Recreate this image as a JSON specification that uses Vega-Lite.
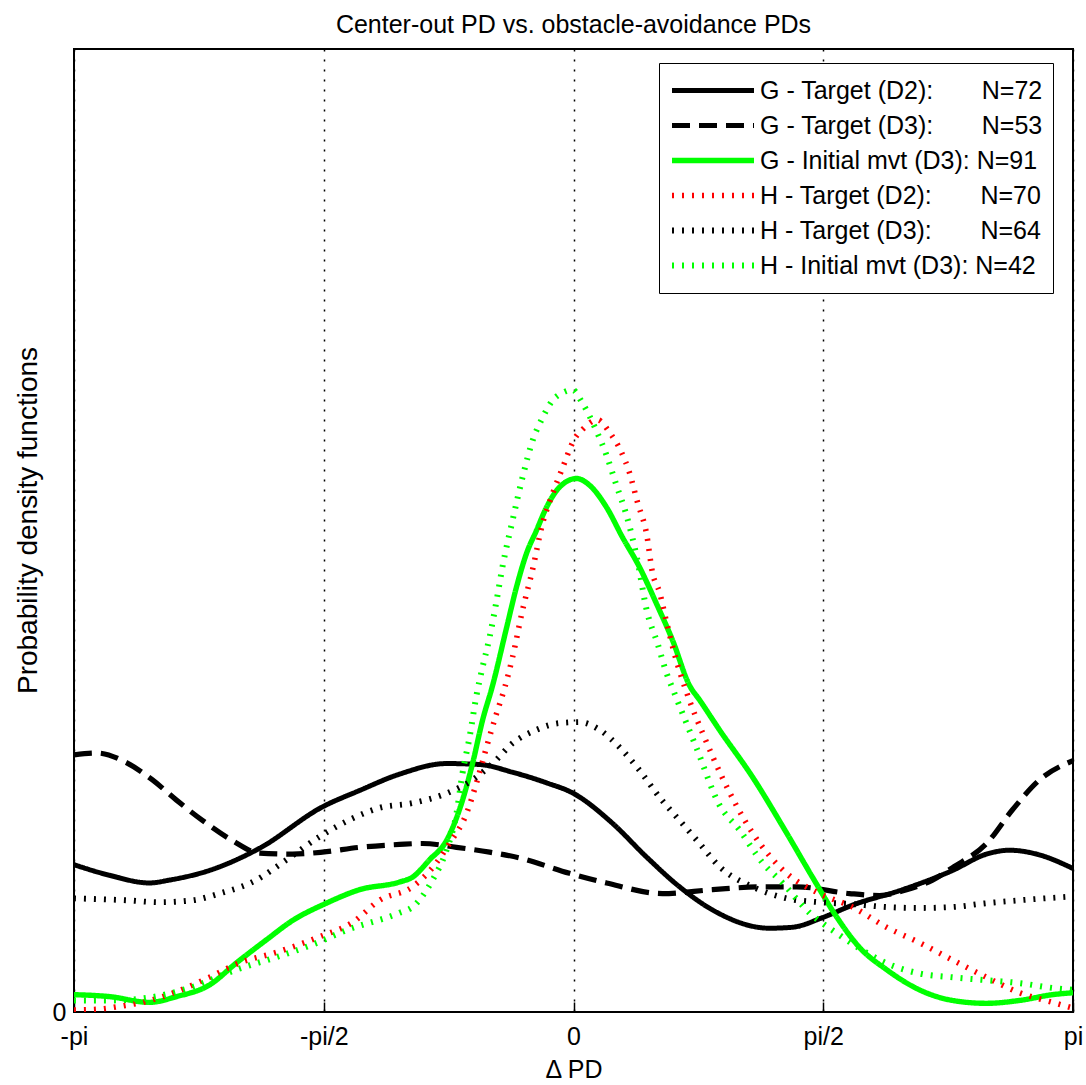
{
  "$schema": "https://vega.github.io/schema/vega-lite/v6.json",
  "width": 999,
  "height": 963,
  "autosize": {"type": "none"},
  "padding": {"left": 74, "top": 49, "right": 13, "bottom": 73},
  "background": "white",
  "title": {"text": "Center-out PD vs. obstacle-avoidance PDs", "fontSize": 25, "font": "Liberation Sans", "fontWeight": "normal", "color": "#000", "offset": 19, "dy": 28, "baseline": "alphabetic"},
  "datasets": {
    "pdfs": [
      {"series": "G - Target (D2):\u00a0\u00a0\u00a0\u00a0\u00a0\u00a0\u00a0N=72", "dpd": -3.142, "pdf": 0.153},
      {"series": "G - Target (D2):\u00a0\u00a0\u00a0\u00a0\u00a0\u00a0\u00a0N=72", "dpd": -2.919, "pdf": 0.142},
      {"series": "G - Target (D2):\u00a0\u00a0\u00a0\u00a0\u00a0\u00a0\u00a0N=72", "dpd": -2.667, "pdf": 0.134},
      {"series": "G - Target (D2):\u00a0\u00a0\u00a0\u00a0\u00a0\u00a0\u00a0N=72", "dpd": -2.541, "pdf": 0.137},
      {"series": "G - Target (D2):\u00a0\u00a0\u00a0\u00a0\u00a0\u00a0\u00a0N=72", "dpd": -2.290, "pdf": 0.147},
      {"series": "G - Target (D2):\u00a0\u00a0\u00a0\u00a0\u00a0\u00a0\u00a0N=72", "dpd": -1.975, "pdf": 0.170},
      {"series": "G - Target (D2):\u00a0\u00a0\u00a0\u00a0\u00a0\u00a0\u00a0N=72", "dpd": -1.579, "pdf": 0.213},
      {"series": "G - Target (D2):\u00a0\u00a0\u00a0\u00a0\u00a0\u00a0\u00a0N=72", "dpd": -1.346, "pdf": 0.230},
      {"series": "G - Target (D2):\u00a0\u00a0\u00a0\u00a0\u00a0\u00a0\u00a0N=72", "dpd": -1.094, "pdf": 0.247},
      {"series": "G - Target (D2):\u00a0\u00a0\u00a0\u00a0\u00a0\u00a0\u00a0N=72", "dpd": -0.799, "pdf": 0.258},
      {"series": "G - Target (D2):\u00a0\u00a0\u00a0\u00a0\u00a0\u00a0\u00a0N=72", "dpd": -0.591, "pdf": 0.257},
      {"series": "G - Target (D2):\u00a0\u00a0\u00a0\u00a0\u00a0\u00a0\u00a0N=72", "dpd": -0.384, "pdf": 0.249},
      {"series": "G - Target (D2):\u00a0\u00a0\u00a0\u00a0\u00a0\u00a0\u00a0N=72", "dpd": -0.170, "pdf": 0.238},
      {"series": "G - Target (D2):\u00a0\u00a0\u00a0\u00a0\u00a0\u00a0\u00a0N=72", "dpd": 0.0, "pdf": 0.227},
      {"series": "G - Target (D2):\u00a0\u00a0\u00a0\u00a0\u00a0\u00a0\u00a0N=72", "dpd": 0.245, "pdf": 0.196},
      {"series": "G - Target (D2):\u00a0\u00a0\u00a0\u00a0\u00a0\u00a0\u00a0N=72", "dpd": 0.459, "pdf": 0.161},
      {"series": "G - Target (D2):\u00a0\u00a0\u00a0\u00a0\u00a0\u00a0\u00a0N=72", "dpd": 0.667, "pdf": 0.130},
      {"series": "G - Target (D2):\u00a0\u00a0\u00a0\u00a0\u00a0\u00a0\u00a0N=72", "dpd": 0.874, "pdf": 0.106},
      {"series": "G - Target (D2):\u00a0\u00a0\u00a0\u00a0\u00a0\u00a0\u00a0N=72", "dpd": 1.233, "pdf": 0.087},
      {"series": "G - Target (D2):\u00a0\u00a0\u00a0\u00a0\u00a0\u00a0\u00a0N=72", "dpd": 1.377, "pdf": 0.088},
      {"series": "G - Target (D2):\u00a0\u00a0\u00a0\u00a0\u00a0\u00a0\u00a0N=72", "dpd": 1.566, "pdf": 0.098},
      {"series": "G - Target (D2):\u00a0\u00a0\u00a0\u00a0\u00a0\u00a0\u00a0N=72", "dpd": 1.755, "pdf": 0.111},
      {"series": "G - Target (D2):\u00a0\u00a0\u00a0\u00a0\u00a0\u00a0\u00a0N=72", "dpd": 2.069, "pdf": 0.127},
      {"series": "G - Target (D2):\u00a0\u00a0\u00a0\u00a0\u00a0\u00a0\u00a0N=72", "dpd": 2.384, "pdf": 0.147},
      {"series": "G - Target (D2):\u00a0\u00a0\u00a0\u00a0\u00a0\u00a0\u00a0N=72", "dpd": 2.598, "pdf": 0.164},
      {"series": "G - Target (D2):\u00a0\u00a0\u00a0\u00a0\u00a0\u00a0\u00a0N=72", "dpd": 2.742, "pdf": 0.168},
      {"series": "G - Target (D2):\u00a0\u00a0\u00a0\u00a0\u00a0\u00a0\u00a0N=72", "dpd": 2.912, "pdf": 0.164},
      {"series": "G - Target (D2):\u00a0\u00a0\u00a0\u00a0\u00a0\u00a0\u00a0N=72", "dpd": 3.142, "pdf": 0.149},

      {"series": "G - Target (D3):\u00a0\u00a0\u00a0\u00a0\u00a0\u00a0\u00a0N=53", "dpd": -3.142, "pdf": 0.267},
      {"series": "G - Target (D3):\u00a0\u00a0\u00a0\u00a0\u00a0\u00a0\u00a0N=53", "dpd": -3.000, "pdf": 0.269},
      {"series": "G - Target (D3):\u00a0\u00a0\u00a0\u00a0\u00a0\u00a0\u00a0N=53", "dpd": -2.812, "pdf": 0.259},
      {"series": "G - Target (D3):\u00a0\u00a0\u00a0\u00a0\u00a0\u00a0\u00a0N=53", "dpd": -2.648, "pdf": 0.241},
      {"series": "G - Target (D3):\u00a0\u00a0\u00a0\u00a0\u00a0\u00a0\u00a0N=53", "dpd": -2.497, "pdf": 0.220},
      {"series": "G - Target (D3):\u00a0\u00a0\u00a0\u00a0\u00a0\u00a0\u00a0N=53", "dpd": -2.334, "pdf": 0.199},
      {"series": "G - Target (D3):\u00a0\u00a0\u00a0\u00a0\u00a0\u00a0\u00a0N=53", "dpd": -2.145, "pdf": 0.178},
      {"series": "G - Target (D3):\u00a0\u00a0\u00a0\u00a0\u00a0\u00a0\u00a0N=53", "dpd": -1.975, "pdf": 0.165},
      {"series": "G - Target (D3):\u00a0\u00a0\u00a0\u00a0\u00a0\u00a0\u00a0N=53", "dpd": -1.767, "pdf": 0.164},
      {"series": "G - Target (D3):\u00a0\u00a0\u00a0\u00a0\u00a0\u00a0\u00a0N=53", "dpd": -1.579, "pdf": 0.166},
      {"series": "G - Target (D3):\u00a0\u00a0\u00a0\u00a0\u00a0\u00a0\u00a0N=53", "dpd": -1.346, "pdf": 0.171},
      {"series": "G - Target (D3):\u00a0\u00a0\u00a0\u00a0\u00a0\u00a0\u00a0N=53", "dpd": -1.094, "pdf": 0.174},
      {"series": "G - Target (D3):\u00a0\u00a0\u00a0\u00a0\u00a0\u00a0\u00a0N=53", "dpd": -0.950, "pdf": 0.175},
      {"series": "G - Target (D3):\u00a0\u00a0\u00a0\u00a0\u00a0\u00a0\u00a0N=53", "dpd": -0.736, "pdf": 0.171},
      {"series": "G - Target (D3):\u00a0\u00a0\u00a0\u00a0\u00a0\u00a0\u00a0N=53", "dpd": -0.528, "pdf": 0.166},
      {"series": "G - Target (D3):\u00a0\u00a0\u00a0\u00a0\u00a0\u00a0\u00a0N=53", "dpd": -0.340, "pdf": 0.160},
      {"series": "G - Target (D3):\u00a0\u00a0\u00a0\u00a0\u00a0\u00a0\u00a0N=53", "dpd": -0.025, "pdf": 0.144},
      {"series": "G - Target (D3):\u00a0\u00a0\u00a0\u00a0\u00a0\u00a0\u00a0N=53", "dpd": 0.208, "pdf": 0.134},
      {"series": "G - Target (D3):\u00a0\u00a0\u00a0\u00a0\u00a0\u00a0\u00a0N=53", "dpd": 0.560, "pdf": 0.123},
      {"series": "G - Target (D3):\u00a0\u00a0\u00a0\u00a0\u00a0\u00a0\u00a0N=53", "dpd": 0.874, "pdf": 0.127},
      {"series": "G - Target (D3):\u00a0\u00a0\u00a0\u00a0\u00a0\u00a0\u00a0N=53", "dpd": 1.189, "pdf": 0.130},
      {"series": "G - Target (D3):\u00a0\u00a0\u00a0\u00a0\u00a0\u00a0\u00a0N=53", "dpd": 1.403, "pdf": 0.130},
      {"series": "G - Target (D3):\u00a0\u00a0\u00a0\u00a0\u00a0\u00a0\u00a0N=53", "dpd": 1.736, "pdf": 0.123},
      {"series": "G - Target (D3):\u00a0\u00a0\u00a0\u00a0\u00a0\u00a0\u00a0N=53", "dpd": 1.925, "pdf": 0.121},
      {"series": "G - Target (D3):\u00a0\u00a0\u00a0\u00a0\u00a0\u00a0\u00a0N=53", "dpd": 2.095, "pdf": 0.127},
      {"series": "G - Target (D3):\u00a0\u00a0\u00a0\u00a0\u00a0\u00a0\u00a0N=53", "dpd": 2.258, "pdf": 0.137},
      {"series": "G - Target (D3):\u00a0\u00a0\u00a0\u00a0\u00a0\u00a0\u00a0N=53", "dpd": 2.384, "pdf": 0.150},
      {"series": "G - Target (D3):\u00a0\u00a0\u00a0\u00a0\u00a0\u00a0\u00a0N=53", "dpd": 2.598, "pdf": 0.175},
      {"series": "G - Target (D3):\u00a0\u00a0\u00a0\u00a0\u00a0\u00a0\u00a0N=53", "dpd": 2.761, "pdf": 0.210},
      {"series": "G - Target (D3):\u00a0\u00a0\u00a0\u00a0\u00a0\u00a0\u00a0N=53", "dpd": 2.931, "pdf": 0.241},
      {"series": "G - Target (D3):\u00a0\u00a0\u00a0\u00a0\u00a0\u00a0\u00a0N=53", "dpd": 3.142, "pdf": 0.261},

      {"series": "G - Initial mvt (D3): N=91", "dpd": -3.142, "pdf": 0.018},
      {"series": "G - Initial mvt (D3): N=91", "dpd": -2.919, "pdf": 0.016},
      {"series": "G - Initial mvt (D3): N=91", "dpd": -2.667, "pdf": 0.010},
      {"series": "G - Initial mvt (D3): N=91", "dpd": -2.497, "pdf": 0.016},
      {"series": "G - Initial mvt (D3): N=91", "dpd": -2.290, "pdf": 0.028},
      {"series": "G - Initial mvt (D3): N=91", "dpd": -2.120, "pdf": 0.051},
      {"series": "G - Initial mvt (D3): N=91", "dpd": -1.931, "pdf": 0.075},
      {"series": "G - Initial mvt (D3): N=91", "dpd": -1.767, "pdf": 0.095},
      {"series": "G - Initial mvt (D3): N=91", "dpd": -1.554, "pdf": 0.113},
      {"series": "G - Initial mvt (D3): N=91", "dpd": -1.346, "pdf": 0.127},
      {"series": "G - Initial mvt (D3): N=91", "dpd": -1.094, "pdf": 0.135},
      {"series": "G - Initial mvt (D3): N=91", "dpd": -1.013, "pdf": 0.140},
      {"series": "G - Initial mvt (D3): N=91", "dpd": -0.906, "pdf": 0.158},
      {"series": "G - Initial mvt (D3): N=91", "dpd": -0.799, "pdf": 0.178},
      {"series": "G - Initial mvt (D3): N=91", "dpd": -0.698, "pdf": 0.220},
      {"series": "G - Initial mvt (D3): N=91", "dpd": -0.635, "pdf": 0.258},
      {"series": "G - Initial mvt (D3): N=91", "dpd": -0.572, "pdf": 0.303},
      {"series": "G - Initial mvt (D3): N=91", "dpd": -0.509, "pdf": 0.339},
      {"series": "G - Initial mvt (D3): N=91", "dpd": -0.421, "pdf": 0.399},
      {"series": "G - Initial mvt (D3): N=91", "dpd": -0.359, "pdf": 0.441},
      {"series": "G - Initial mvt (D3): N=91", "dpd": -0.296, "pdf": 0.476},
      {"series": "G - Initial mvt (D3): N=91", "dpd": -0.233, "pdf": 0.500},
      {"series": "G - Initial mvt (D3): N=91", "dpd": -0.170, "pdf": 0.524},
      {"series": "G - Initial mvt (D3): N=91", "dpd": -0.088, "pdf": 0.545},
      {"series": "G - Initial mvt (D3): N=91", "dpd": 0.019, "pdf": 0.554},
      {"series": "G - Initial mvt (D3): N=91", "dpd": 0.101, "pdf": 0.547},
      {"series": "G - Initial mvt (D3): N=91", "dpd": 0.208, "pdf": 0.524},
      {"series": "G - Initial mvt (D3): N=91", "dpd": 0.308, "pdf": 0.493},
      {"series": "G - Initial mvt (D3): N=91", "dpd": 0.415, "pdf": 0.462},
      {"series": "G - Initial mvt (D3): N=91", "dpd": 0.522, "pdf": 0.424},
      {"series": "G - Initial mvt (D3): N=91", "dpd": 0.623, "pdf": 0.386},
      {"series": "G - Initial mvt (D3): N=91", "dpd": 0.730, "pdf": 0.339},
      {"series": "G - Initial mvt (D3): N=91", "dpd": 0.793, "pdf": 0.324},
      {"series": "G - Initial mvt (D3): N=91", "dpd": 0.918, "pdf": 0.293},
      {"series": "G - Initial mvt (D3): N=91", "dpd": 1.126, "pdf": 0.244},
      {"series": "G - Initial mvt (D3): N=91", "dpd": 1.340, "pdf": 0.186},
      {"series": "G - Initial mvt (D3): N=91", "dpd": 1.503, "pdf": 0.140},
      {"series": "G - Initial mvt (D3): N=91", "dpd": 1.654, "pdf": 0.099},
      {"series": "G - Initial mvt (D3): N=91", "dpd": 1.799, "pdf": 0.067},
      {"series": "G - Initial mvt (D3): N=91", "dpd": 1.969, "pdf": 0.044},
      {"series": "G - Initial mvt (D3): N=91", "dpd": 2.176, "pdf": 0.023},
      {"series": "G - Initial mvt (D3): N=91", "dpd": 2.384, "pdf": 0.012},
      {"series": "G - Initial mvt (D3): N=91", "dpd": 2.598, "pdf": 0.009},
      {"series": "G - Initial mvt (D3): N=91", "dpd": 2.805, "pdf": 0.012},
      {"series": "G - Initial mvt (D3): N=91", "dpd": 3.013, "pdf": 0.018},
      {"series": "G - Initial mvt (D3): N=91", "dpd": 3.142, "pdf": 0.020},

      {"series": "H - Target (D2):\u00a0\u00a0\u00a0\u00a0\u00a0\u00a0\u00a0N=70", "dpd": -3.142, "pdf": 0.002},
      {"series": "H - Target (D2):\u00a0\u00a0\u00a0\u00a0\u00a0\u00a0\u00a0N=70", "dpd": -2.981, "pdf": 0.003},
      {"series": "H - Target (D2):\u00a0\u00a0\u00a0\u00a0\u00a0\u00a0\u00a0N=70", "dpd": -2.812, "pdf": 0.007},
      {"series": "H - Target (D2):\u00a0\u00a0\u00a0\u00a0\u00a0\u00a0\u00a0N=70", "dpd": -2.711, "pdf": 0.010},
      {"series": "H - Target (D2):\u00a0\u00a0\u00a0\u00a0\u00a0\u00a0\u00a0N=70", "dpd": -2.497, "pdf": 0.021},
      {"series": "H - Target (D2):\u00a0\u00a0\u00a0\u00a0\u00a0\u00a0\u00a0N=70", "dpd": -2.290, "pdf": 0.036},
      {"series": "H - Target (D2):\u00a0\u00a0\u00a0\u00a0\u00a0\u00a0\u00a0N=70", "dpd": -2.101, "pdf": 0.051},
      {"series": "H - Target (D2):\u00a0\u00a0\u00a0\u00a0\u00a0\u00a0\u00a0N=70", "dpd": -1.868, "pdf": 0.062},
      {"series": "H - Target (D2):\u00a0\u00a0\u00a0\u00a0\u00a0\u00a0\u00a0N=70", "dpd": -1.598, "pdf": 0.078},
      {"series": "H - Target (D2):\u00a0\u00a0\u00a0\u00a0\u00a0\u00a0\u00a0N=70", "dpd": -1.390, "pdf": 0.093},
      {"series": "H - Target (D2):\u00a0\u00a0\u00a0\u00a0\u00a0\u00a0\u00a0N=70", "dpd": -1.220, "pdf": 0.116},
      {"series": "H - Target (D2):\u00a0\u00a0\u00a0\u00a0\u00a0\u00a0\u00a0N=70", "dpd": -1.013, "pdf": 0.130},
      {"series": "H - Target (D2):\u00a0\u00a0\u00a0\u00a0\u00a0\u00a0\u00a0N=70", "dpd": -0.862, "pdf": 0.155},
      {"series": "H - Target (D2):\u00a0\u00a0\u00a0\u00a0\u00a0\u00a0\u00a0N=70", "dpd": -0.780, "pdf": 0.175},
      {"series": "H - Target (D2):\u00a0\u00a0\u00a0\u00a0\u00a0\u00a0\u00a0N=70", "dpd": -0.673, "pdf": 0.206},
      {"series": "H - Target (D2):\u00a0\u00a0\u00a0\u00a0\u00a0\u00a0\u00a0N=70", "dpd": -0.610, "pdf": 0.238},
      {"series": "H - Target (D2):\u00a0\u00a0\u00a0\u00a0\u00a0\u00a0\u00a0N=70", "dpd": -0.547, "pdf": 0.275},
      {"series": "H - Target (D2):\u00a0\u00a0\u00a0\u00a0\u00a0\u00a0\u00a0N=70", "dpd": -0.484, "pdf": 0.310},
      {"series": "H - Target (D2):\u00a0\u00a0\u00a0\u00a0\u00a0\u00a0\u00a0N=70", "dpd": -0.434, "pdf": 0.336},
      {"series": "H - Target (D2):\u00a0\u00a0\u00a0\u00a0\u00a0\u00a0\u00a0N=70", "dpd": -0.384, "pdf": 0.368},
      {"series": "H - Target (D2):\u00a0\u00a0\u00a0\u00a0\u00a0\u00a0\u00a0N=70", "dpd": -0.321, "pdf": 0.417},
      {"series": "H - Target (D2):\u00a0\u00a0\u00a0\u00a0\u00a0\u00a0\u00a0N=70", "dpd": -0.258, "pdf": 0.459},
      {"series": "H - Target (D2):\u00a0\u00a0\u00a0\u00a0\u00a0\u00a0\u00a0N=70", "dpd": -0.195, "pdf": 0.507},
      {"series": "H - Target (D2):\u00a0\u00a0\u00a0\u00a0\u00a0\u00a0\u00a0N=70", "dpd": -0.132, "pdf": 0.538},
      {"series": "H - Target (D2):\u00a0\u00a0\u00a0\u00a0\u00a0\u00a0\u00a0N=70", "dpd": -0.069, "pdf": 0.565},
      {"series": "H - Target (D2):\u00a0\u00a0\u00a0\u00a0\u00a0\u00a0\u00a0N=70", "dpd": 0.006, "pdf": 0.595},
      {"series": "H - Target (D2):\u00a0\u00a0\u00a0\u00a0\u00a0\u00a0\u00a0N=70", "dpd": 0.057, "pdf": 0.605},
      {"series": "H - Target (D2):\u00a0\u00a0\u00a0\u00a0\u00a0\u00a0\u00a0N=70", "dpd": 0.151, "pdf": 0.615},
      {"series": "H - Target (D2):\u00a0\u00a0\u00a0\u00a0\u00a0\u00a0\u00a0N=70", "dpd": 0.226, "pdf": 0.602},
      {"series": "H - Target (D2):\u00a0\u00a0\u00a0\u00a0\u00a0\u00a0\u00a0N=70", "dpd": 0.302, "pdf": 0.581},
      {"series": "H - Target (D2):\u00a0\u00a0\u00a0\u00a0\u00a0\u00a0\u00a0N=70", "dpd": 0.352, "pdf": 0.560},
      {"series": "H - Target (D2):\u00a0\u00a0\u00a0\u00a0\u00a0\u00a0\u00a0N=70", "dpd": 0.403, "pdf": 0.529},
      {"series": "H - Target (D2):\u00a0\u00a0\u00a0\u00a0\u00a0\u00a0\u00a0N=70", "dpd": 0.459, "pdf": 0.497},
      {"series": "H - Target (D2):\u00a0\u00a0\u00a0\u00a0\u00a0\u00a0\u00a0N=70", "dpd": 0.497, "pdf": 0.456},
      {"series": "H - Target (D2):\u00a0\u00a0\u00a0\u00a0\u00a0\u00a0\u00a0N=70", "dpd": 0.541, "pdf": 0.436},
      {"series": "H - Target (D2):\u00a0\u00a0\u00a0\u00a0\u00a0\u00a0\u00a0N=70", "dpd": 0.585, "pdf": 0.405},
      {"series": "H - Target (D2):\u00a0\u00a0\u00a0\u00a0\u00a0\u00a0\u00a0N=70", "dpd": 0.635, "pdf": 0.372},
      {"series": "H - Target (D2):\u00a0\u00a0\u00a0\u00a0\u00a0\u00a0\u00a0N=70", "dpd": 0.711, "pdf": 0.332},
      {"series": "H - Target (D2):\u00a0\u00a0\u00a0\u00a0\u00a0\u00a0\u00a0N=70", "dpd": 0.824, "pdf": 0.285},
      {"series": "H - Target (D2):\u00a0\u00a0\u00a0\u00a0\u00a0\u00a0\u00a0N=70", "dpd": 0.937, "pdf": 0.243},
      {"series": "H - Target (D2):\u00a0\u00a0\u00a0\u00a0\u00a0\u00a0\u00a0N=70", "dpd": 1.126, "pdf": 0.186},
      {"series": "H - Target (D2):\u00a0\u00a0\u00a0\u00a0\u00a0\u00a0\u00a0N=70", "dpd": 1.340, "pdf": 0.144},
      {"series": "H - Target (D2):\u00a0\u00a0\u00a0\u00a0\u00a0\u00a0\u00a0N=70", "dpd": 1.547, "pdf": 0.123},
      {"series": "H - Target (D2):\u00a0\u00a0\u00a0\u00a0\u00a0\u00a0\u00a0N=70", "dpd": 1.755, "pdf": 0.109},
      {"series": "H - Target (D2):\u00a0\u00a0\u00a0\u00a0\u00a0\u00a0\u00a0N=70", "dpd": 1.969, "pdf": 0.088},
      {"series": "H - Target (D2):\u00a0\u00a0\u00a0\u00a0\u00a0\u00a0\u00a0N=70", "dpd": 2.176, "pdf": 0.072},
      {"series": "H - Target (D2):\u00a0\u00a0\u00a0\u00a0\u00a0\u00a0\u00a0N=70", "dpd": 2.384, "pdf": 0.054},
      {"series": "H - Target (D2):\u00a0\u00a0\u00a0\u00a0\u00a0\u00a0\u00a0N=70", "dpd": 2.598, "pdf": 0.036},
      {"series": "H - Target (D2):\u00a0\u00a0\u00a0\u00a0\u00a0\u00a0\u00a0N=70", "dpd": 2.805, "pdf": 0.020},
      {"series": "H - Target (D2):\u00a0\u00a0\u00a0\u00a0\u00a0\u00a0\u00a0N=70", "dpd": 3.013, "pdf": 0.010},
      {"series": "H - Target (D2):\u00a0\u00a0\u00a0\u00a0\u00a0\u00a0\u00a0N=70", "dpd": 3.142, "pdf": 0.004},

      {"series": "H - Target (D3):\u00a0\u00a0\u00a0\u00a0\u00a0\u00a0\u00a0N=64", "dpd": -3.142, "pdf": 0.118},
      {"series": "H - Target (D3):\u00a0\u00a0\u00a0\u00a0\u00a0\u00a0\u00a0N=64", "dpd": -2.812, "pdf": 0.116},
      {"series": "H - Target (D3):\u00a0\u00a0\u00a0\u00a0\u00a0\u00a0\u00a0N=64", "dpd": -2.604, "pdf": 0.114},
      {"series": "H - Target (D3):\u00a0\u00a0\u00a0\u00a0\u00a0\u00a0\u00a0N=64", "dpd": -2.396, "pdf": 0.116},
      {"series": "H - Target (D3):\u00a0\u00a0\u00a0\u00a0\u00a0\u00a0\u00a0N=64", "dpd": -2.227, "pdf": 0.123},
      {"series": "H - Target (D3):\u00a0\u00a0\u00a0\u00a0\u00a0\u00a0\u00a0N=64", "dpd": -2.019, "pdf": 0.135},
      {"series": "H - Target (D3):\u00a0\u00a0\u00a0\u00a0\u00a0\u00a0\u00a0N=64", "dpd": -1.805, "pdf": 0.158},
      {"series": "H - Target (D3):\u00a0\u00a0\u00a0\u00a0\u00a0\u00a0\u00a0N=64", "dpd": -1.598, "pdf": 0.182},
      {"series": "H - Target (D3):\u00a0\u00a0\u00a0\u00a0\u00a0\u00a0\u00a0N=64", "dpd": -1.390, "pdf": 0.201},
      {"series": "H - Target (D3):\u00a0\u00a0\u00a0\u00a0\u00a0\u00a0\u00a0N=64", "dpd": -1.220, "pdf": 0.212},
      {"series": "H - Target (D3):\u00a0\u00a0\u00a0\u00a0\u00a0\u00a0\u00a0N=64", "dpd": -1.013, "pdf": 0.217},
      {"series": "H - Target (D3):\u00a0\u00a0\u00a0\u00a0\u00a0\u00a0\u00a0N=64", "dpd": -0.799, "pdf": 0.227},
      {"series": "H - Target (D3):\u00a0\u00a0\u00a0\u00a0\u00a0\u00a0\u00a0N=64", "dpd": -0.635, "pdf": 0.241},
      {"series": "H - Target (D3):\u00a0\u00a0\u00a0\u00a0\u00a0\u00a0\u00a0N=64", "dpd": -0.509, "pdf": 0.258},
      {"series": "H - Target (D3):\u00a0\u00a0\u00a0\u00a0\u00a0\u00a0\u00a0N=64", "dpd": -0.384, "pdf": 0.279},
      {"series": "H - Target (D3):\u00a0\u00a0\u00a0\u00a0\u00a0\u00a0\u00a0N=64", "dpd": -0.233, "pdf": 0.293},
      {"series": "H - Target (D3):\u00a0\u00a0\u00a0\u00a0\u00a0\u00a0\u00a0N=64", "dpd": -0.088, "pdf": 0.300},
      {"series": "H - Target (D3):\u00a0\u00a0\u00a0\u00a0\u00a0\u00a0\u00a0N=64", "dpd": 0.038, "pdf": 0.301},
      {"series": "H - Target (D3):\u00a0\u00a0\u00a0\u00a0\u00a0\u00a0\u00a0N=64", "dpd": 0.164, "pdf": 0.293},
      {"series": "H - Target (D3):\u00a0\u00a0\u00a0\u00a0\u00a0\u00a0\u00a0N=64", "dpd": 0.289, "pdf": 0.275},
      {"series": "H - Target (D3):\u00a0\u00a0\u00a0\u00a0\u00a0\u00a0\u00a0N=64", "dpd": 0.415, "pdf": 0.251},
      {"series": "H - Target (D3):\u00a0\u00a0\u00a0\u00a0\u00a0\u00a0\u00a0N=64", "dpd": 0.541, "pdf": 0.223},
      {"series": "H - Target (D3):\u00a0\u00a0\u00a0\u00a0\u00a0\u00a0\u00a0N=64", "dpd": 0.667, "pdf": 0.199},
      {"series": "H - Target (D3):\u00a0\u00a0\u00a0\u00a0\u00a0\u00a0\u00a0N=64", "dpd": 0.793, "pdf": 0.175},
      {"series": "H - Target (D3):\u00a0\u00a0\u00a0\u00a0\u00a0\u00a0\u00a0N=64", "dpd": 0.918, "pdf": 0.151},
      {"series": "H - Target (D3):\u00a0\u00a0\u00a0\u00a0\u00a0\u00a0\u00a0N=64", "dpd": 1.126, "pdf": 0.130},
      {"series": "H - Target (D3):\u00a0\u00a0\u00a0\u00a0\u00a0\u00a0\u00a0N=64", "dpd": 1.340, "pdf": 0.118},
      {"series": "H - Target (D3):\u00a0\u00a0\u00a0\u00a0\u00a0\u00a0\u00a0N=64", "dpd": 1.547, "pdf": 0.114},
      {"series": "H - Target (D3):\u00a0\u00a0\u00a0\u00a0\u00a0\u00a0\u00a0N=64", "dpd": 1.755, "pdf": 0.112},
      {"series": "H - Target (D3):\u00a0\u00a0\u00a0\u00a0\u00a0\u00a0\u00a0N=64", "dpd": 1.969, "pdf": 0.109},
      {"series": "H - Target (D3):\u00a0\u00a0\u00a0\u00a0\u00a0\u00a0\u00a0N=64", "dpd": 2.176, "pdf": 0.108},
      {"series": "H - Target (D3):\u00a0\u00a0\u00a0\u00a0\u00a0\u00a0\u00a0N=64", "dpd": 2.384, "pdf": 0.109},
      {"series": "H - Target (D3):\u00a0\u00a0\u00a0\u00a0\u00a0\u00a0\u00a0N=64", "dpd": 2.598, "pdf": 0.113},
      {"series": "H - Target (D3):\u00a0\u00a0\u00a0\u00a0\u00a0\u00a0\u00a0N=64", "dpd": 2.805, "pdf": 0.116},
      {"series": "H - Target (D3):\u00a0\u00a0\u00a0\u00a0\u00a0\u00a0\u00a0N=64", "dpd": 3.142, "pdf": 0.120},

      {"series": "H - Initial mvt (D3): N=42", "dpd": -3.142, "pdf": 0.012},
      {"series": "H - Initial mvt (D3): N=42", "dpd": -2.919, "pdf": 0.012},
      {"series": "H - Initial mvt (D3): N=42", "dpd": -2.667, "pdf": 0.015},
      {"series": "H - Initial mvt (D3): N=42", "dpd": -2.415, "pdf": 0.025},
      {"series": "H - Initial mvt (D3): N=42", "dpd": -2.120, "pdf": 0.044},
      {"series": "H - Initial mvt (D3): N=42", "dpd": -1.868, "pdf": 0.057},
      {"series": "H - Initial mvt (D3): N=42", "dpd": -1.642, "pdf": 0.070},
      {"series": "H - Initial mvt (D3): N=42", "dpd": -1.428, "pdf": 0.085},
      {"series": "H - Initial mvt (D3): N=42", "dpd": -1.094, "pdf": 0.103},
      {"series": "H - Initial mvt (D3): N=42", "dpd": -1.013, "pdf": 0.109},
      {"series": "H - Initial mvt (D3): N=42", "dpd": -0.887, "pdf": 0.137},
      {"series": "H - Initial mvt (D3): N=42", "dpd": -0.799, "pdf": 0.168},
      {"series": "H - Initial mvt (D3): N=42", "dpd": -0.736, "pdf": 0.206},
      {"series": "H - Initial mvt (D3): N=42", "dpd": -0.698, "pdf": 0.248},
      {"series": "H - Initial mvt (D3): N=42", "dpd": -0.654, "pdf": 0.285},
      {"series": "H - Initial mvt (D3): N=42", "dpd": -0.610, "pdf": 0.329},
      {"series": "H - Initial mvt (D3): N=42", "dpd": -0.572, "pdf": 0.358},
      {"series": "H - Initial mvt (D3): N=42", "dpd": -0.528, "pdf": 0.389},
      {"series": "H - Initial mvt (D3): N=42", "dpd": -0.484, "pdf": 0.427},
      {"series": "H - Initial mvt (D3): N=42", "dpd": -0.447, "pdf": 0.462},
      {"series": "H - Initial mvt (D3): N=42", "dpd": -0.384, "pdf": 0.510},
      {"series": "H - Initial mvt (D3): N=42", "dpd": -0.321, "pdf": 0.555},
      {"series": "H - Initial mvt (D3): N=42", "dpd": -0.258, "pdf": 0.593},
      {"series": "H - Initial mvt (D3): N=42", "dpd": -0.195, "pdf": 0.617},
      {"series": "H - Initial mvt (D3): N=42", "dpd": -0.132, "pdf": 0.635},
      {"series": "H - Initial mvt (D3): N=42", "dpd": -0.069, "pdf": 0.643},
      {"series": "H - Initial mvt (D3): N=42", "dpd": -0.006, "pdf": 0.646},
      {"series": "H - Initial mvt (D3): N=42", "dpd": 0.057, "pdf": 0.632},
      {"series": "H - Initial mvt (D3): N=42", "dpd": 0.151, "pdf": 0.601},
      {"series": "H - Initial mvt (D3): N=42", "dpd": 0.208, "pdf": 0.578},
      {"series": "H - Initial mvt (D3): N=42", "dpd": 0.270, "pdf": 0.547},
      {"series": "H - Initial mvt (D3): N=42", "dpd": 0.333, "pdf": 0.516},
      {"series": "H - Initial mvt (D3): N=42", "dpd": 0.396, "pdf": 0.474},
      {"series": "H - Initial mvt (D3): N=42", "dpd": 0.465, "pdf": 0.414},
      {"series": "H - Initial mvt (D3): N=42", "dpd": 0.528, "pdf": 0.383},
      {"series": "H - Initial mvt (D3): N=42", "dpd": 0.585, "pdf": 0.352},
      {"series": "H - Initial mvt (D3): N=42", "dpd": 0.635, "pdf": 0.331},
      {"series": "H - Initial mvt (D3): N=42", "dpd": 0.774, "pdf": 0.274},
      {"series": "H - Initial mvt (D3): N=42", "dpd": 0.918, "pdf": 0.215},
      {"series": "H - Initial mvt (D3): N=42", "dpd": 1.044, "pdf": 0.189},
      {"series": "H - Initial mvt (D3): N=42", "dpd": 1.189, "pdf": 0.155},
      {"series": "H - Initial mvt (D3): N=42", "dpd": 1.315, "pdf": 0.134},
      {"series": "H - Initial mvt (D3): N=42", "dpd": 1.484, "pdf": 0.103},
      {"series": "H - Initial mvt (D3): N=42", "dpd": 1.654, "pdf": 0.082},
      {"series": "H - Initial mvt (D3): N=42", "dpd": 1.799, "pdf": 0.066},
      {"series": "H - Initial mvt (D3): N=42", "dpd": 1.925, "pdf": 0.054},
      {"series": "H - Initial mvt (D3): N=42", "dpd": 2.176, "pdf": 0.040},
      {"series": "H - Initial mvt (D3): N=42", "dpd": 2.384, "pdf": 0.036},
      {"series": "H - Initial mvt (D3): N=42", "dpd": 2.598, "pdf": 0.033},
      {"series": "H - Initial mvt (D3): N=42", "dpd": 2.805, "pdf": 0.030},
      {"series": "H - Initial mvt (D3): N=42", "dpd": 3.013, "pdf": 0.025},
      {"series": "H - Initial mvt (D3): N=42", "dpd": 3.142, "pdf": 0.023}
    ]
  },
  "data": {"name": "pdfs"},
  "mark": {"type": "line", "interpolate": "monotone", "clip": true, "strokeCap": "butt"},
  "encoding": {
    "x": {
      "field": "dpd", "type": "quantitative",
      "scale": {"domain": [-3.14159, 3.14159], "nice": false, "zero": false},
      "axis": {
        "values": [-3.14159, -1.5708, 0, 1.5708, 3.14159],
        "labelExpr": "datum.value < -3 ? '-pi' : datum.value < -1 ? '-pi/2' : datum.value > 3 ? 'pi' : datum.value > 1 ? 'pi/2' : '0'",
        "grid": true, "gridDash": [2, 8], "gridColor": "#000", "gridWidth": 1.5, "gridOpacity": 1,
        "domain": false,
        "ticks": true, "tickSize": -10, "tickColor": "#000", "tickWidth": 1.5,
        "labelFontSize": 25, "labelFont": "Liberation Sans", "labelColor": "#000", "labelPadding": 22,
        "labelFlush": false, "labelOverlap": false,
        "title": "Δ PD", "titleFontSize": 25, "titleFont": "Liberation Sans", "titleFontWeight": "normal", "titleColor": "#000", "titlePadding": 8
      }
    },
    "y": {
      "field": "pdf", "type": "quantitative",
      "scale": {"domain": [0, 1], "nice": false},
      "axis": {
        "values": [0], "labelExpr": "'0'", "grid": false, "domain": false, "ticks": false,
        "labelFontSize": 25, "labelFont": "Liberation Sans", "labelColor": "#000", "labelPadding": 8,
        "title": "Probability density functions", "titleFontSize": 28, "titleFont": "Liberation Sans", "titleFontWeight": "normal", "titleColor": "#000", "titlePadding": 10, "titleY": 471
      }
    },
    "color": {
      "field": "series", "type": "nominal",
      "scale": {
        "domain": ["G - Target (D2):\u00a0\u00a0\u00a0\u00a0\u00a0\u00a0\u00a0N=72", "G - Target (D3):\u00a0\u00a0\u00a0\u00a0\u00a0\u00a0\u00a0N=53", "G - Initial mvt (D3): N=91", "H - Target (D2):\u00a0\u00a0\u00a0\u00a0\u00a0\u00a0\u00a0N=70", "H - Target (D3):\u00a0\u00a0\u00a0\u00a0\u00a0\u00a0\u00a0N=64", "H - Initial mvt (D3): N=42"],
        "range": ["#000000", "#000000", "#00ff00", "#ff0000", "#000000", "#00ff00"]
      },
      "legend": {
        "title": null, "orient": "none", "legendX": 585, "legendY": 14, "direction": "vertical",
        "strokeColor": "#000", "fillColor": "#fff", "padding": 10,
        "symbolType": "stroke", "symbolSize": 6724, "clipHeight": 35,
        "labelFontSize": 25, "labelFont": "Liberation Sans", "labelColor": "#000", "labelOffset": 3, "labelLimit": 0,
        "rowPadding": 0
      }
    },
    "strokeDash": {
      "field": "series", "type": "nominal",
      "scale": {
        "domain": ["G - Target (D2):\u00a0\u00a0\u00a0\u00a0\u00a0\u00a0\u00a0N=72", "G - Target (D3):\u00a0\u00a0\u00a0\u00a0\u00a0\u00a0\u00a0N=53", "G - Initial mvt (D3): N=91", "H - Target (D2):\u00a0\u00a0\u00a0\u00a0\u00a0\u00a0\u00a0N=70", "H - Target (D3):\u00a0\u00a0\u00a0\u00a0\u00a0\u00a0\u00a0N=64", "H - Initial mvt (D3): N=42"],
        "range": [[1, 0], [18, 9], [1, 0], [2, 8], [2, 8], [2, 8]]
      }
    },
    "strokeWidth": {
      "field": "series", "type": "nominal",
      "scale": {
        "domain": ["G - Target (D2):\u00a0\u00a0\u00a0\u00a0\u00a0\u00a0\u00a0N=72", "G - Target (D3):\u00a0\u00a0\u00a0\u00a0\u00a0\u00a0\u00a0N=53", "G - Initial mvt (D3): N=91", "H - Target (D2):\u00a0\u00a0\u00a0\u00a0\u00a0\u00a0\u00a0N=70", "H - Target (D3):\u00a0\u00a0\u00a0\u00a0\u00a0\u00a0\u00a0N=64", "H - Initial mvt (D3): N=42"],
        "range": [5, 6, 7, 7, 7, 7]
      }
    }
  },
  "config": {
    "view": {"stroke": "#000", "strokeWidth": 2},
    "font": "Liberation Sans"
  }
}
